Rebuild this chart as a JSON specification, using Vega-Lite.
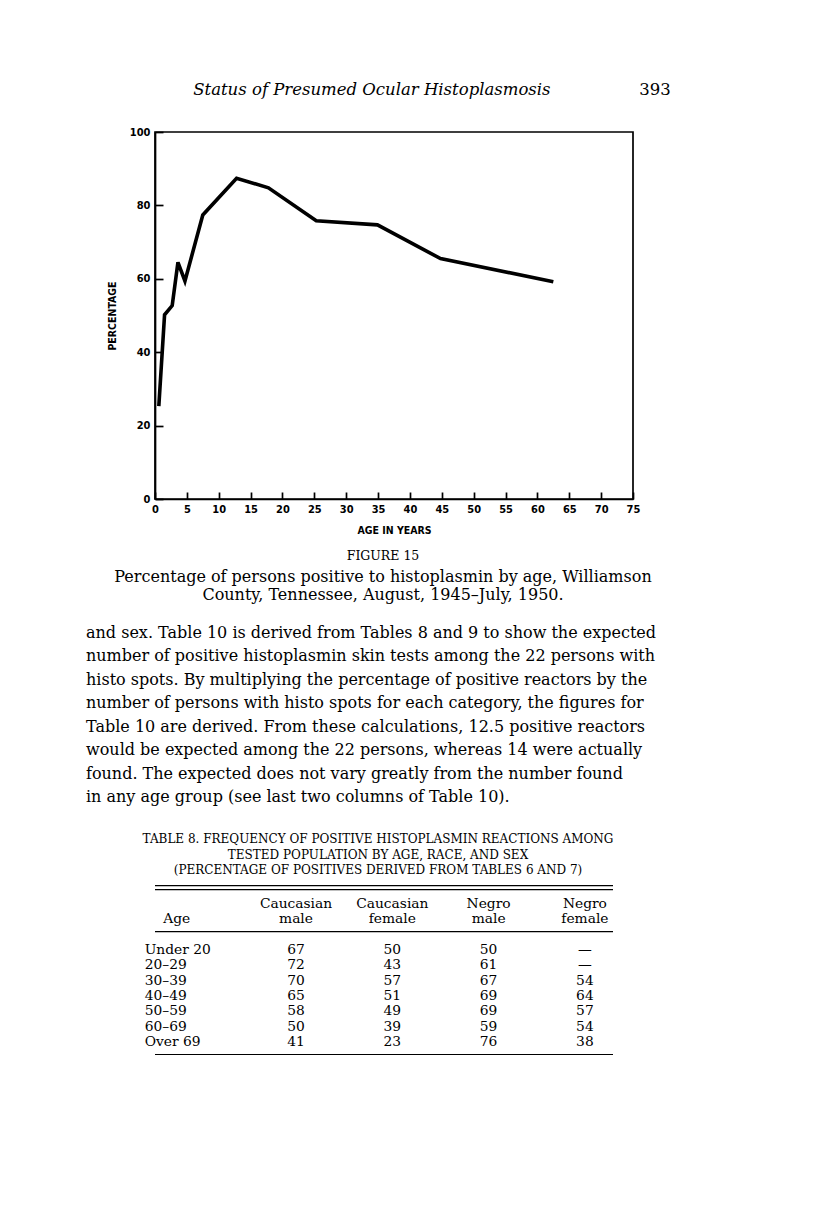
{
  "$schema": "https://vega.github.io/schema/vega-lite/v6.json",
  "background": "white",
  "padding": {"left": 86, "top": 48, "right": 10, "bottom": 10},
  "bounds": "flush",
  "spacing": 0,
  "config": {"view": {"stroke": null}, "font": "DejaVu Serif"},
  "datasets": {
    "positives": [
      {"age": 0.6, "pct": 25.3},
      {"age": 1.5, "pct": 50.2},
      {"age": 2.7, "pct": 52.7},
      {"age": 3.6, "pct": 64.5},
      {"age": 4.7, "pct": 59.4},
      {"age": 7.5, "pct": 77.4},
      {"age": 12.8, "pct": 87.4},
      {"age": 17.8, "pct": 84.8},
      {"age": 25.3, "pct": 75.8},
      {"age": 34.9, "pct": 74.7},
      {"age": 44.8, "pct": 65.5},
      {"age": 62.5, "pct": 59.2}
    ],
    "table8": [
      {"Age": "Under 20", "Caucasian male": 67, "Caucasian female": 50, "Negro male": 50, "Negro female": null},
      {"Age": "20–29", "Caucasian male": 72, "Caucasian female": 43, "Negro male": 61, "Negro female": null},
      {"Age": "30–39", "Caucasian male": 70, "Caucasian female": 57, "Negro male": 67, "Negro female": 54},
      {"Age": "40–49", "Caucasian male": 65, "Caucasian female": 51, "Negro male": 69, "Negro female": 64},
      {"Age": "50–59", "Caucasian male": 58, "Caucasian female": 49, "Negro male": 69, "Negro female": 57},
      {"Age": "60–69", "Caucasian male": 50, "Caucasian female": 39, "Negro male": 59, "Negro female": 54},
      {"Age": "Over 69", "Caucasian male": 41, "Caucasian female": 23, "Negro male": 76, "Negro female": 38}
    ]
  },
  "vconcat": [
    {
      "width": 540,
      "height": 84,
      "data": {"values": [
        {"part": "running head", "text": "Status of Presumed Ocular Histoplasmosis"},
        {"part": "page number", "text": "393"}
      ]},
      "layer": [
        {
          "transform": [{"filter": "datum.part === 'running head'"}],
          "mark": {"type": "text", "font": "DejaVu Serif", "fontStyle": "italic", "fontSize": 16.5, "color": "black"},
          "encoding": {
            "x": {"field": "part", "type": "nominal", "scale": {"type": "point", "domain": ["running head", "page number"], "padding": 0.454, "align": 0.844}, "axis": null},
            "text": {"field": "text"}
          }
        },
        {
          "transform": [{"filter": "datum.part === 'page number'"}],
          "mark": {"type": "text", "font": "DejaVu Serif", "fontSize": 16.5, "color": "black"},
          "encoding": {
            "x": {"field": "part", "type": "nominal", "scale": {"type": "point", "domain": ["running head", "page number"], "padding": 0.454, "align": 0.844}, "axis": null},
            "text": {"field": "text"}
          }
        }
      ]
    },
    {
      "width": 478,
      "height": 367,
      "view": {"stroke": "black", "strokeWidth": 1.7},
      "title": {
        "text": "FIGURE 15",
        "orient": "bottom",
        "anchor": "middle",
        "dx": -11,
        "font": "DejaVu Serif",
        "fontSize": 12.5,
        "fontWeight": "normal",
        "color": "black",
        "offset": 14,
        "subtitle": ["Percentage of persons positive to histoplasmin by age, Williamson", "County, Tennessee, August, 1945–July, 1950."],
        "subtitleFont": "DejaVu Serif",
        "subtitleFontSize": 16,
        "subtitleLineHeight": 18,
        "subtitlePadding": 7,
        "subtitleColor": "black"
      },
      "data": {"name": "positives"},
      "mark": {"type": "line", "color": "black", "strokeWidth": 3.6},
      "encoding": {
        "x": {
          "field": "age", "type": "quantitative",
          "scale": {"domain": [0, 75], "nice": false},
          "axis": {
            "values": [0, 5, 10, 15, 20, 25, 30, 35, 40, 45, 50, 55, 60, 65, 70, 75],
            "title": "AGE IN YEARS",
            "grid": false,
            "tickSize": -7, "tickWidth": 1.7, "tickColor": "black",
            "domainColor": "black", "domainWidth": 1.7,
            "labelPadding": 11, "labelFlush": false, "labelOverlap": false,
            "labelFont": "DejaVu Sans Condensed, Liberation Sans Narrow, DejaVu Sans",
            "labelFontWeight": "bold", "labelFontSize": 11, "labelColor": "black",
            "titleFont": "DejaVu Sans Condensed, Liberation Sans Narrow, DejaVu Sans",
            "titleFontWeight": "bold", "titleFontSize": 10.5, "titleColor": "black", "titlePadding": 11
          }
        },
        "y": {
          "field": "pct", "type": "quantitative",
          "scale": {"domain": [0, 100], "nice": false},
          "axis": {
            "values": [0, 20, 40, 60, 80, 100],
            "title": "PERCENTAGE",
            "grid": false,
            "tickSize": -8, "tickWidth": 1.7, "tickColor": "black",
            "domainColor": "black", "domainWidth": 1.7,
            "labelPadding": 13, "labelFlush": false, "labelOverlap": false,
            "labelFont": "DejaVu Sans Condensed, Liberation Sans Narrow, DejaVu Sans",
            "labelFontWeight": "bold", "labelFontSize": 11, "labelColor": "black",
            "titleFont": "DejaVu Sans Condensed, Liberation Sans Narrow, DejaVu Sans",
            "titleFontWeight": "bold", "titleFontSize": 10.5, "titleColor": "black", "titlePadding": 12
          }
        }
      }
    },
    {
      "width": 10,
      "height": 333,
      "data": {"values": []},
      "mark": "text"
    },
    {
      "width": 458,
      "height": 230,
      "title": {
        "text": [
          "and sex. Table 10 is derived from Tables 8 and 9 to show the expected",
          "number of positive histoplasmin skin tests among the 22 persons with",
          "histo spots. By multiplying the percentage of positive reactors by the",
          "number of persons with histo spots for each category, the figures for",
          "Table 10 are derived. From these calculations, 12.5 positive reactors",
          "would be expected among the 22 persons, whereas 14 were actually",
          "found. The expected does not vary greatly from the number found",
          "in any age group (see last two columns of Table 10)."
        ],
        "orient": "top",
        "anchor": "start",
        "frame": "group",
        "align": "left",
        "dx": -69,
        "offset": 27,
        "font": "DejaVu Serif",
        "fontSize": 16,
        "fontWeight": "normal",
        "lineHeight": 23.5,
        "color": "black"
      },
      "layer": [
        {
          "data": {"values": [{"rule": "top rule"}, {"rule": "header rule"}, {"rule": "bottom rule"}]},
          "mark": {"type": "rule", "color": "black", "strokeWidth": 1.2, "x2Offset": -12},
          "encoding": {
            "y": {"field": "rule", "type": "nominal", "scale": {"type": "point", "domain": ["title line 1", "title line 2", "title line 3", "top rule", "header line 1", "header line 2", "header rule", "Under 20", "20–29", "30–39", "40–49", "50–59", "60–69", "Over 69", "bottom rule"], "padding": 0.487}, "axis": null}
          }
        },
        {
          "data": {"values": [{"rule": "top rule"}]},
          "mark": {"type": "rule", "color": "black", "strokeWidth": 1.2, "yOffset": 4, "x2Offset": -12},
          "encoding": {
            "y": {"field": "rule", "type": "nominal", "axis": null}
          }
        },
        {
          "data": {"values": [
            {"line": "title line 1", "text": "TABLE 8. FREQUENCY OF POSITIVE HISTOPLASMIN REACTIONS AMONG"},
            {"line": "title line 2", "text": "TESTED POPULATION BY AGE, RACE, AND SEX"},
            {"line": "title line 3", "text": "(PERCENTAGE OF POSITIVES DERIVED FROM TABLES 6 AND 7)"}
          ]},
          "mark": {"type": "text", "font": "DejaVu Serif", "fontSize": 12, "color": "black", "dx": -6},
          "encoding": {
            "y": {"field": "line", "type": "nominal", "axis": null},
            "text": {"field": "text"}
          }
        },
        {
          "data": {"values": [
            {"column": "Caucasian male", "line": "header line 1", "label": "Caucasian"},
            {"column": "Caucasian female", "line": "header line 1", "label": "Caucasian"},
            {"column": "Negro male", "line": "header line 1", "label": "Negro"},
            {"column": "Negro female", "line": "header line 1", "label": "Negro"},
            {"column": "Caucasian male", "line": "header line 2", "label": "male"},
            {"column": "Caucasian female", "line": "header line 2", "label": "female"},
            {"column": "Negro male", "line": "header line 2", "label": "male"},
            {"column": "Negro female", "line": "header line 2", "label": "female"}
          ]},
          "mark": {"type": "text", "font": "DejaVu Serif", "fontSize": 13.8, "color": "black", "dy": 3},
          "encoding": {
            "x": {"field": "column", "type": "nominal", "scale": {"type": "point", "domain": ["Age", "Caucasian male", "Caucasian female", "Negro male", "Negro female"], "padding": 0.378, "align": 0.614}, "axis": null},
            "y": {"field": "line", "type": "nominal", "axis": null},
            "text": {"field": "label"}
          }
        },
        {
          "data": {"values": [{"column": "Age", "line": "header line 2", "label": "Age"}]},
          "mark": {"type": "text", "font": "DejaVu Serif", "fontSize": 13.8, "color": "black", "dy": 3, "dx": -23},
          "encoding": {
            "x": {"field": "column", "type": "nominal", "axis": null},
            "y": {"field": "line", "type": "nominal", "axis": null},
            "text": {"field": "label"}
          }
        },
        {
          "data": {"name": "table8"},
          "mark": {"type": "text", "font": "DejaVu Serif", "fontSize": 13.8, "color": "black", "dy": 3, "dx": -55, "align": "left"},
          "encoding": {
            "x": {"datum": "Age", "type": "nominal", "axis": null},
            "y": {"field": "Age", "type": "nominal", "axis": null},
            "text": {"field": "Age"}
          }
        },
        {
          "data": {"name": "table8"},
          "transform": [
            {"fold": ["Caucasian male", "Caucasian female", "Negro male", "Negro female"], "as": ["column", "pct"]},
            {"filter": "datum.pct != null"}
          ],
          "mark": {"type": "text", "font": "DejaVu Serif", "fontSize": 13.8, "color": "black", "dy": 3},
          "encoding": {
            "x": {"field": "column", "type": "nominal", "axis": null},
            "y": {"field": "Age", "type": "nominal", "axis": null},
            "text": {"field": "pct", "type": "quantitative"}
          }
        },
        {
          "data": {"name": "table8"},
          "transform": [
            {"fold": ["Caucasian male", "Caucasian female", "Negro male", "Negro female"], "as": ["column", "pct"]},
            {"filter": "datum.pct == null"}
          ],
          "mark": {"type": "text", "font": "DejaVu Serif", "fontSize": 13.8, "color": "black", "dy": 3, "text": "—"},
          "encoding": {
            "x": {"field": "column", "type": "nominal", "axis": null},
            "y": {"field": "Age", "type": "nominal", "axis": null}
          }
        }
      ]
    }
  ]
}
